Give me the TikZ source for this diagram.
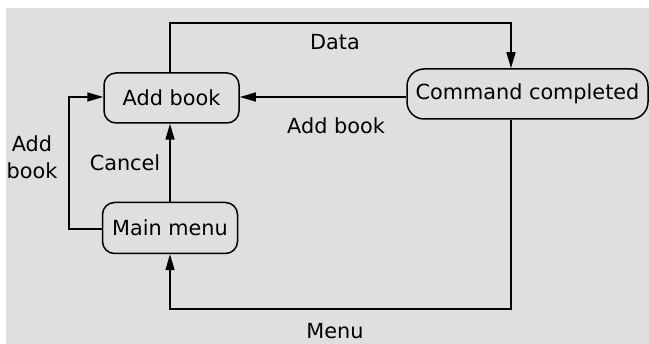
\documentclass[tikz,border=0pt]{standalone}
\usepackage{fontspec}
\setmainfont{DejaVu Sans}
\usetikzlibrary{arrows.meta}
\definecolor{bg}{HTML}{DFDFDF}
\tikzset{
  state/.style={draw=black, line width=1.5pt, rounded corners=12pt, inner sep=0pt, font=\fontsize{20.8}{25}\selectfont},
  conn/.style={line width=1.5pt, -{Triangle[length=16pt,width=9pt]}},
  lbl/.style={font=\fontsize{20.8}{27}\selectfont, inner sep=0pt}
}
\begin{document}
\begin{tikzpicture}[x=1pt,y=-1pt]
\useasboundingbox (0,0) rectangle (649,344);
\fill[bg] (6,8.5) rectangle (649,344);
\node[state, minimum width=135pt, minimum height=50pt] (add) at (171.5,98) {Add book};
\node[state, minimum width=135pt, minimum height=51pt] (main) at (170,228) {Main menu};
\node[state, rounded corners=17pt, minimum width=241pt, minimum height=50pt] (cmd) at (527.5,94) {Command completed};
\coordinate (d1) at (170,23);
\coordinate (d2) at (511,23);
\coordinate (l1) at (69,229);
\coordinate (l2) at (69,97);
\coordinate (m1) at (511,309);
\coordinate (m2) at (170,309);
\draw[conn] (add.north -| d1) -- (d1) -- (d2) -- (d2 |- cmd.north);
\draw[conn] (cmd.west |- 0,97) -- (add.east |- 0,97);
\draw[conn] (main.north -| 170,0) -- (add.south -| 170,0);
\draw[conn] (main.west |- l1) -- (l1) -- (l2) -- (add.west |- l2);
\draw[conn] (cmd.south -| m1) -- (m1) -- (m2) -- (main.south -| m2);
\node[lbl] (tdata) at (335,42) {Data};
\node[lbl] (tadd) at (336,126) {Add book};
\node[lbl] (tcancel) at (125,163) {Cancel};
\node[lbl, align=center] (tleft) at (32,157) {Add\\book};
\node[lbl] (tmenu) at (335,331) {Menu};
\end{tikzpicture}
\end{document}
